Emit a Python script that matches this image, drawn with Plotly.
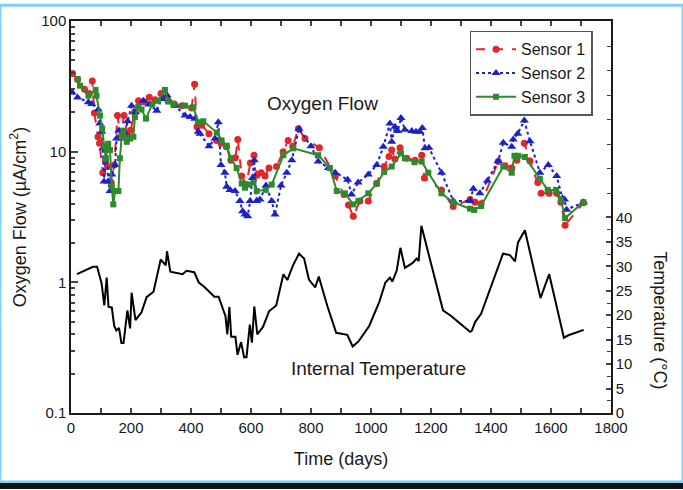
import plotly.graph_objects as go

# ---------------- data ----------------
s1_days = [5, 22, 45, 61, 71, 78, 90, 95, 106, 115, 122, 134, 144, 155, 165, 177, 188, 199, 212, 225,
           245, 261, 280, 300, 322, 344, 370, 402, 412, 420, 436, 460, 485, 500, 518, 533, 548, 556,
           569, 584, 598, 610, 620, 634, 647, 660, 685, 707, 724, 739, 758, 780, 828, 881, 910, 925,
           941, 963, 991, 1019, 1044, 1060, 1069, 1080, 1097, 1119, 1147, 1169, 1178, 1235, 1274,
           1330, 1347, 1367, 1424, 1447, 1469, 1486, 1511, 1530, 1556, 1567, 1594, 1619, 1633, 1647, 1708]
s1_vals = [39.7, 35.8, 30.0, 27.9, 34.8, 19.8, 13.0, 11.6, 6.9, 8.6, 7.7, 5.8, 7.9, 18.9, 13.0, 18.9,
           13.5, 14.6, 20.0, 24.5, 24.0, 26.1, 25.0, 27.9, 25.0, 23.2, 22.5, 21.6, 32.8, 15.5, 15.9,
           13.7, 12.2, 11.6, 10.9, 8.6, 9.0, 12.4, 6.5, 5.6, 8.2, 9.4, 6.6, 6.9, 6.5, 7.5, 7.7, 10.0,
           12.2, 11.0, 15.0, 12.6, 10.7, 6.5, 4.7, 3.9, 3.2, 4.2, 4.2, 5.7, 7.7, 9.2, 10.3, 8.8, 10.7,
           8.9, 8.6, 9.4, 6.3, 5.1, 3.8, 4.3, 4.1, 4.0, 8.4, 7.8, 7.5, 8.6, 11.6, 8.5, 5.8, 4.8, 4.8,
           4.8, 4.1, 2.74, 4.06]

s2_days = [4, 22, 58, 69, 91, 96, 102, 106, 110, 119, 124, 130, 136, 147, 152, 160, 169, 180, 189,
           202, 215, 241, 260, 286, 302, 320, 347, 380, 397, 413, 424, 430, 460, 480, 491, 500, 513,
           519, 530, 547, 563, 572, 580, 589, 597, 605, 611, 619, 630, 650, 669, 680, 700, 719, 736,
           760, 800, 824, 858, 881, 922, 935, 957, 991, 1019, 1041, 1063, 1069, 1080, 1089, 1100,
           1113, 1136, 1150, 1163, 1171, 1180, 1193, 1235, 1274, 1330, 1341, 1363, 1388, 1424, 1441,
           1469, 1474, 1489, 1511, 1530, 1563, 1591, 1619, 1638, 1645, 1652, 1708]
s2_vals = [28.4, 26.0, 23.9, 23.2, 21.0, 16.4, 14.2, 10.6, 5.9, 11.2, 5.9, 5.0, 6.7, 7.9, 12.6, 14.5,
           12.6, 14.0, 17.1, 22.5, 20.0, 24.5, 23.0, 20.6, 25.3, 27.0, 22.5, 18.9, 18.4, 17.9, 14.2,
           13.7, 11.0, 12.6, 16.8, 7.9, 6.9, 5.4, 5.1, 5.0, 4.2, 3.5, 3.3, 3.2, 4.2, 6.3, 8.6, 4.2,
           4.3, 5.5, 4.2, 3.3, 5.5, 6.9, 8.6, 15.0, 11.0, 8.4, 7.5, 6.9, 6.1, 4.7, 5.8, 6.7, 7.9,
           10.9, 16.4, 11.9, 15.5, 14.4, 18.1, 14.7, 14.4, 14.2, 14.2, 15.2, 10.6, 10.7, 6.9, 4.2,
           4.2, 5.2, 4.8, 6.0, 8.5, 11.7, 10.9, 12.4, 13.7, 17.3, 12.0, 6.9, 7.9, 6.5, 4.4, 4.3, 3.6, 4.1]

s3_days = [22, 30, 58, 82, 85, 97, 104, 111, 116, 124, 130, 136, 141, 147, 158, 163, 169, 175, 186,
           197, 208, 213, 224, 235, 250, 271, 290, 313, 324, 341, 380, 408, 424, 441, 486, 502, 519,
           533, 552, 569, 580, 593, 608, 619, 649, 669, 708, 741, 824, 863, 886, 913, 941, 958, 991,
           1019, 1044, 1069, 1100, 1113, 1145, 1169, 1191, 1235, 1274, 1330, 1344, 1367, 1441, 1469,
           1478, 1491, 1513, 1563, 1589, 1617, 1633, 1647, 1708]
s3_vals = [35.8, 32.0, 26.8, 29.7, 26.8, 18.9, 15.0, 10.9, 8.9, 11.5, 10.3, 5.4, 3.95, 5.0, 5.0, 8.9,
           13.0, 14.5, 11.9, 12.6, 13.0, 18.4, 21.9, 21.0, 17.9, 23.2, 24.5, 29.7, 24.2, 23.2, 22.5,
           21.9, 16.8, 17.1, 14.0, 12.2, 11.1, 8.9, 7.5, 5.7, 5.3, 5.6, 5.8, 5.0, 5.1, 5.6, 9.4, 10.6,
           9.4, 7.5, 5.0, 4.8, 3.95, 4.2, 4.8, 5.7, 7.0, 7.7, 9.7, 8.9, 8.3, 8.4, 6.9, 4.8, 4.1, 3.66,
           3.58, 3.84, 7.7, 6.9, 9.3, 9.3, 9.1, 6.2, 5.1, 5.1, 4.3, 3.1, 4.1]

t_days = [20, 73, 87, 102, 111, 119, 125, 136, 144, 151, 160, 168, 175, 188, 197, 202, 215, 235, 252,
          275, 299, 316, 320, 331, 372, 385, 411, 426, 443, 478, 492, 507, 515, 521, 528, 534, 548,
          555, 567, 577, 585, 596, 603, 611, 621, 640, 660, 684, 708, 721, 740, 760, 777, 793, 814,
          826, 855, 884, 905, 921, 939, 959, 994, 1028, 1048, 1063, 1071, 1086, 1098, 1113, 1139,
          1152, 1159, 1168, 1240, 1266, 1301, 1330, 1336, 1347, 1367, 1440, 1463, 1480, 1490, 1513,
          1565, 1594, 1643, 1658, 1709]
t_vals = [28.4, 29.9, 29.9, 26.5, 22.0, 27.7, 21.7, 21.6, 17.8, 16.9, 17.4, 14.3, 14.3, 21.0, 17.3,
          24.6, 19.0, 20.6, 23.7, 24.8, 31.4, 30.2, 33.1, 28.9, 28.4, 29.1, 28.8, 26.7, 25.9, 23.8,
          23.8, 21.1, 19.8, 16.1, 21.7, 15.6, 15.6, 11.9, 14.5, 11.4, 11.4, 18.1, 14.4, 21.8, 16.1,
          17.6, 20.8, 22.0, 28.4, 27.2, 30.2, 32.6, 31.6, 27.3, 25.7, 27.9, 21.8, 16.4, 16.1, 16.0,
          13.6, 14.7, 17.8, 22.8, 26.7, 27.7, 26.9, 29.2, 33.8, 29.7, 30.7, 31.6, 31.1, 38.3, 21.0,
          19.9, 18.1, 16.6, 16.8, 18.6, 20.3, 32.6, 32.3, 31.0, 34.9, 37.4, 23.5, 28.4, 15.4, 15.9, 17.0]

x_ticks = [0, 200, 400, 600, 800, 1000, 1200, 1400, 1600, 1800]
y_ticks = [0.1, 1, 10, 100]
y_ticktext = ["0.1", "1", "10", "100"]
t_ticks = list(range(0, 41, 5))
t_minor = [2.5 + 5 * i for i in range(8)] + list(range(45, 81, 5))

FONT = "Liberation Sans, Arial, sans-serif"
RED = "#e3262b"
BLUE = "#1c22c8"
GREEN = "#2d8a2d"

fig = go.Figure()
fig.add_trace(go.Scatter(x=s1_days, y=s1_vals, name="Sensor 1", mode="lines+markers",
                         line=dict(color=RED, width=2, dash="dash"),
                         marker=dict(symbol="circle", size=7, color=RED)))
fig.add_trace(go.Scatter(x=s2_days, y=s2_vals, name="Sensor 2", mode="lines+markers",
                         line=dict(color=BLUE, width=2, dash="dot"),
                         marker=dict(symbol="triangle-up", size=8, color=BLUE)))
fig.add_trace(go.Scatter(x=s3_days, y=s3_vals, name="Sensor 3", mode="lines+markers",
                         line=dict(color=GREEN, width=2),
                         marker=dict(symbol="square", size=6, color=GREEN)))
fig.add_trace(go.Scatter(x=t_days, y=t_vals, name="Internal Temperature", mode="lines",
                         line=dict(color="black", width=2), yaxis="y2", showlegend=False))

minor_log = [round(m * 10 ** e, 3) for e in (-1, 0, 1) for m in range(2, 10)]

fig.update_layout(
    width=683, height=490,
    margin=dict(l=71, r=72, t=16, b=77),
    paper_bgcolor="white", plot_bgcolor="white",
    font=dict(family=FONT, size=15, color="#1a1a1a"),
    xaxis=dict(range=[0, 1800], tickvals=x_ticks, ticks="inside", ticklen=5, tickwidth=1.5,
               showline=True, linecolor="#1a1a1a", linewidth=1.5, mirror="ticks",
               showgrid=False, zeroline=False,
               minor=dict(dtick=100, ticks="inside", ticklen=5, tickwidth=1.5, showgrid=False),
               title=dict(text="Time (days)", font=dict(size=18), standoff=18),
               tickfont=dict(size=15)),
    yaxis=dict(type="log", range=[-1, 2], tickvals=y_ticks, ticktext=y_ticktext,
               ticks="inside", ticklen=7, tickwidth=1.5,
               showline=True, linecolor="#1a1a1a", linewidth=1.5, mirror=False,
               showgrid=False, zeroline=False,
               minor=dict(tickmode="array", tickvals=minor_log, ticks="inside", ticklen=4,
                          tickwidth=1.5, showgrid=False),
               title=dict(text="Oxygen Flow (µA/cm<sup>2</sup>)", font=dict(size=18), standoff=10),
               tickfont=dict(size=15)),
    yaxis2=dict(overlaying="y", side="right", range=[0, 80.2], tickvals=t_ticks,
                ticks="inside", ticklen=5, tickwidth=1.5,
                showline=True, linecolor="#1a1a1a", linewidth=1.5,
                showgrid=False, zeroline=False,
                minor=dict(tickmode="array", tickvals=t_minor,
                           ticks="inside", ticklen=4, tickwidth=1.3, showgrid=False),
                tickfont=dict(size=15)),
    legend=dict(x=0.738, y=0.975, xanchor="left", yanchor="top",
                bgcolor="white", bordercolor="#555", borderwidth=1.5,
                font=dict(size=16), tracegroupgap=0, itemwidth=40),
    showlegend=True,
)

fig.add_annotation(x=(322 - 71) / 540, y=(413 - 100) / 397, xref="paper", yref="paper",
                   text="Oxygen Flow", showarrow=False, font=dict(size=19),
                   xanchor="center", yanchor="middle")
fig.add_annotation(x=(378 - 71) / 540, y=(413 - 368) / 397, xref="paper", yref="paper",
                   text="Internal Temperature", showarrow=False, font=dict(size=19),
                   xanchor="center", yanchor="middle")
fig.add_annotation(x=(660 - 71) / 540, y=(413 - 319) / 397, xref="paper", yref="paper",
                   text="Temperature (°C)", showarrow=False, textangle=90,
                   font=dict(size=18), xanchor="center", yanchor="middle")

# frame decorations around the picture
fig.add_shape(type="rect", xref="paper", yref="paper", x0=-71 / 540, x1=612 / 540,
              y0=(413 - 483) / 397, y1=413 / 397, line=dict(color="#7fd0f5", width=3),
              fillcolor="rgba(0,0,0,0)", layer="above")
fig.add_shape(type="rect", xref="paper", yref="paper", x0=-71 / 540, x1=612 / 540,
              y0=(413 - 490) / 397, y1=(413 - 484) / 397, line=dict(width=0),
              fillcolor="#111111", layer="above")

fig.write_html("out.html")
